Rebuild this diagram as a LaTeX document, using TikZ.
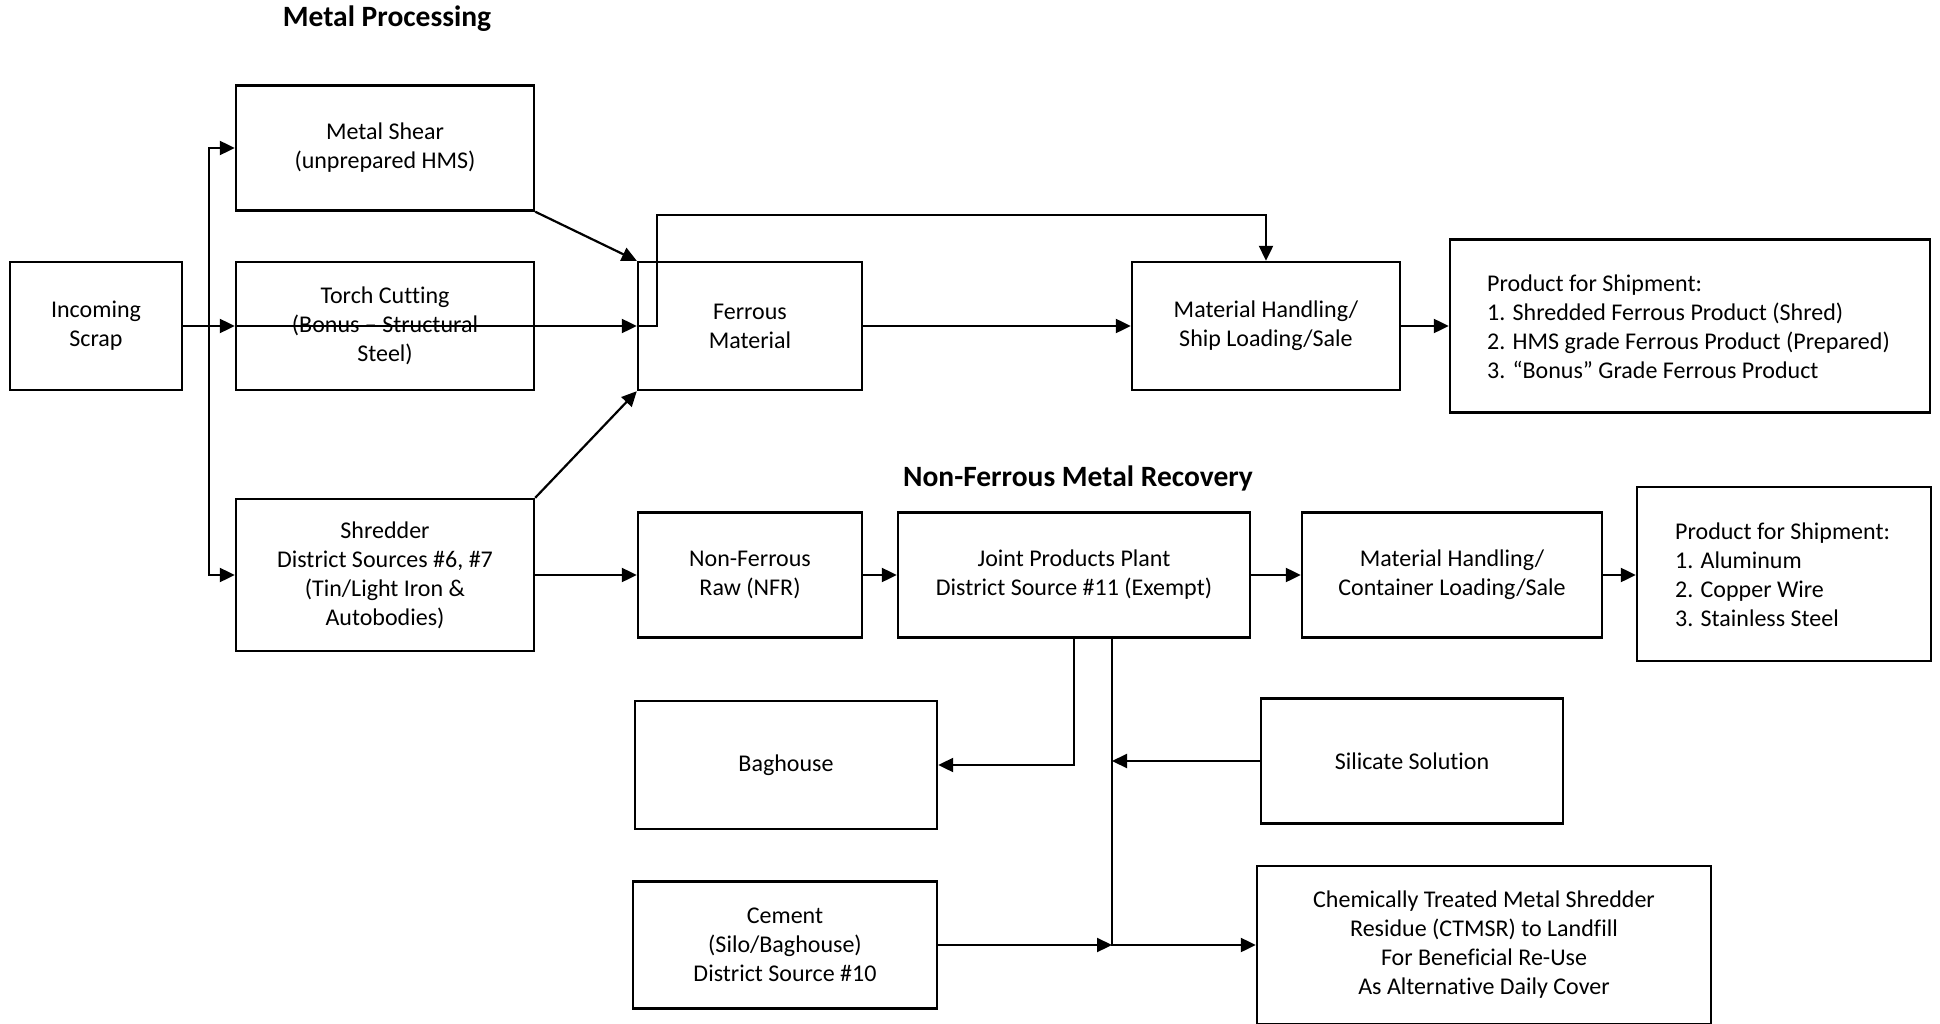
\documentclass[tikz,border=0pt]{standalone}
\usepackage{fontspec}
\setmainfont{Carlito}[Ligatures=NoCommon]
\usetikzlibrary{arrows.meta,calc}
\begin{document}
\begin{tikzpicture}[x=1pt,y=-1pt,
  box/.style={draw, line width=2.4pt, inner sep=0pt, align=center,
    font=\fontsize{24}{29}\selectfont},
  txt/.style={inner sep=0pt, align=left, font=\fontsize{24}{29}\selectfont},
  ttl/.style={inner sep=0pt, font=\fontsize{29.5}{34}\selectfont\bfseries},
  arr/.style={line width=2.2pt, -{Triangle[length=15pt,width=14pt]}}]
\useasboundingbox (0,0) rectangle (1940,1024);

\node[ttl] (t1) at (387,19) {Metal Processing};
\node[ttl] (t2) at (1078,478) {Non-Ferrous Metal Recovery};

\node[box, minimum width=298pt, minimum height=125pt] (ms) at (385,148) {Metal Shear\\(unprepared HMS)};
\node[box, minimum width=172pt, minimum height=128pt] (is) at (96,326) {Incoming\\Scrap};
\node[box, minimum width=298pt, minimum height=128pt] (tc) at (385,326) {Torch Cutting\\(Bonus – Structural\\Steel)};
\node[box, minimum width=224pt, minimum height=128pt] (fe) at (750,326) {Ferrous\\Material};
\node[box, minimum width=268pt, minimum height=128pt] (mh) at (1266,326) {Material Handling/\\Ship Loading/Sale};
\node[box, minimum width=480pt, minimum height=173pt] (p1) at (1690,326) {};
\node[txt, anchor=west] (p1t) at (1487,327) {Product for Shipment:\\1. Shredded Ferrous Product (Shred)\\2. HMS grade Ferrous Product (Prepared)\\3. “Bonus” Grade Ferrous Product};

\node[box, minimum width=298pt, minimum height=152pt] (sh) at (385,575) {Shredder\\District Sources \#6, \#7\\(Tin/Light Iron \&\\Autobodies)};
\node[box, minimum width=224pt, minimum height=125pt] (nfr) at (750,575) {Non-Ferrous\\Raw (NFR)};
\node[box, minimum width=352pt, minimum height=125pt] (jpp) at (1074,575) {Joint Products Plant\\District Source \#11 (Exempt)};
\node[box, minimum width=300pt, minimum height=125pt] (mhc) at (1452,575) {Material Handling/\\Container Loading/Sale};
\node[box, minimum width=294pt, minimum height=174pt] (p2) at (1784,574) {};
\node[txt, anchor=west] (p2t) at (1675,575) {Product for Shipment:\\1. Aluminum\\2. Copper Wire\\3. Stainless Steel};

\node[box, minimum width=302pt, minimum height=128pt] (bh) at (786,765) {Baghouse};
\node[box, minimum width=302pt, minimum height=125pt] (si) at (1412,761) {Silicate Solution};
\node[box, minimum width=304pt, minimum height=127pt] (ce) at (785,945) {Cement\\(Silo/Baghouse)\\District Source \#10};
\node[box, minimum width=454pt, minimum height=158pt] (ct) at (1484,945) {Chemically Treated Metal Shredder\\Residue (CTMSR) to Landfill\\For Beneficial Re-Use\\As Alternative Daily Cover};

\coordinate (bus) at (209,326);
\coordinate (fetop) at (657,215);
\coordinate (j2) at (1112,638);

\draw[arr] (is.east) -- (tc.west);
\draw[arr] (tc.west) -- (fe.west);
\draw[arr] (bus) |- (ms.west);
\draw[arr] (bus) |- (sh.west);
\draw[arr] (ms.south east) -- (fe.north west);
\draw[arr] (sh.north east) -- (fe.south west);
\draw[arr] (fe.west) -| (fetop) -| (mh.north);
\draw[arr] (fe.east) -- (mh.west);
\draw[arr] (mh.east) -- (mh.east -| p1.west);

\draw[arr] (sh.east) -- (sh.east -| nfr.west);
\draw[arr] (nfr.east) -- (jpp.west);
\draw[arr] (jpp.east) -- (mhc.west);
\draw[arr] (mhc.east) -- (mhc.east -| p2.west);

\draw[arr] (jpp.south) |- (bh.east);
\draw[arr] (j2) |- (ct.west);
\draw[arr] (si.west) -- (si.west -| j2);
\draw[arr] (ce.east) -- (ce.east -| j2);
\end{tikzpicture}
\end{document}
